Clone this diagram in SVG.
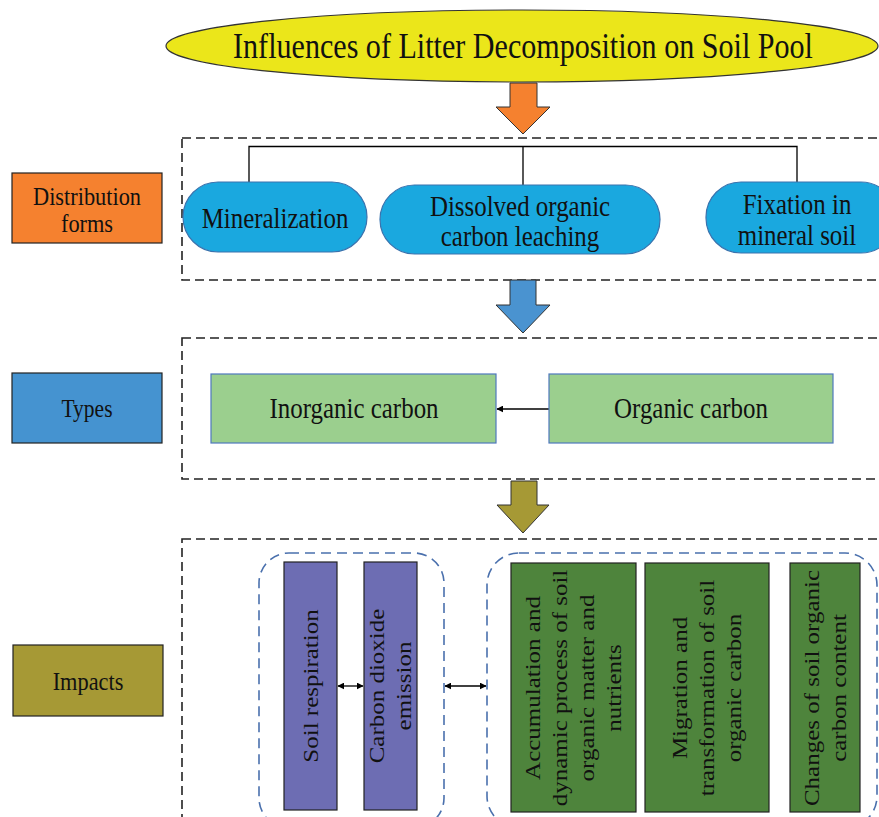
<svg xmlns="http://www.w3.org/2000/svg" width="879" height="817" viewBox="0 0 879 817">
<defs>
<marker id="ah" viewBox="0 0 10 10" refX="9" refY="5" markerWidth="7" markerHeight="7" orient="auto-start-reverse" markerUnits="userSpaceOnUse"><path d="M0,0 L10,5 L0,10 z" fill="#000"/></marker>
</defs>
<style>
text{font-family:"Liberation Serif","Times New Roman",serif;fill:#111;text-anchor:middle}
.t{font-size:29px}
.lab{font-size:26px}
.r{font-size:25px}
.dash{fill:none;stroke:#222;stroke-width:1.6;stroke-dasharray:9 5}
.bdash{fill:none;stroke:#4a70ad;stroke-width:1.6;stroke-dasharray:10 6}
.pill{fill:#1aa8df;stroke:#3a73ae;stroke-width:1.2}
.lg{fill:#9bcf8e;stroke:#4f78bd;stroke-width:1.2}
.pu{fill:#6d6db3;stroke:#222;stroke-width:1.2}
.dg{fill:#4e843c;stroke:#222;stroke-width:1.2}
.conn{fill:none;stroke:#000;stroke-width:1.3}
</style>

<g id="title">
<ellipse cx="522" cy="46" rx="356" ry="36" fill="#ebe61a" stroke="#333" stroke-width="1.2"/>
<text transform="translate(523,58) scale(0.86,1)" style="font-size:35px">Influences of Litter Decomposition on Soil Pool</text>
</g>

<g id="frames">
<rect class="dash" x="182" y="138" width="710" height="142"/>
<rect class="dash" x="182" y="338" width="710" height="141"/>
<rect class="dash" x="182" y="539" width="710" height="300"/>
</g>

<g id="block-arrows">
<path d="M510,83 H537 V107 H550 L523,134 L496,107 H510 Z" fill="#f5812f" stroke="#333" stroke-width="1"/>
<path d="M510,280 H536 V305 H550 L523,333 L496,305 H510 Z" fill="#4a93d0" stroke="#333" stroke-width="1"/>
<path d="M511,481 H537 V505 H549 L523,533 L497,505 H511 Z" fill="#a69935" stroke="#333" stroke-width="1"/>
</g>

<g id="lab-distribution">
<rect x="12" y="173" width="150" height="70" fill="#f5812f" stroke="#222" stroke-width="1.2"/>
<text class="lab" transform="translate(87,205) scale(0.86,1)">Distribution</text>
<text class="lab" transform="translate(87,232) scale(0.86,1)">forms</text>
</g>
<g id="lab-types">
<rect x="12" y="373" width="150" height="70" fill="#4593d0" stroke="#222" stroke-width="1.2"/>
<text class="lab" transform="translate(87,417) scale(0.86,1)" style="font-size:25px">Types</text>
</g>
<g id="lab-impacts">
<rect x="13" y="645" width="150" height="71" fill="#a69935" stroke="#222" stroke-width="1.2"/>
<text class="lab" transform="translate(88,690) scale(0.86,1)">Impacts</text>
</g>

<g id="connectors">
<path class="conn" d="M249,182 V146.5 H797 V182 M523,146.5 V185"/>
<line class="conn" x1="549" y1="409" x2="497" y2="409" stroke-width="1" marker-end="url(#ah)"/>
<line class="conn" x1="338" y1="686" x2="363" y2="686" marker-start="url(#ah)" marker-end="url(#ah)"/>
<line class="conn" x1="445" y1="686" x2="486" y2="686" marker-start="url(#ah)" marker-end="url(#ah)"/>
</g>

<g id="mineralization">
<rect class="pill" x="183" y="182" width="184" height="70" rx="35"/>
<text class="t" transform="translate(275,228) scale(0.86,1)">Mineralization</text>
</g>
<g id="doc-leaching">
<rect class="pill" x="380" y="185" width="280" height="69" rx="34.5"/>
<text class="t" transform="translate(520,216) scale(0.86,1)">Dissolved organic</text>
<text class="t" transform="translate(520,246) scale(0.86,1)">carbon leaching</text>
</g>
<g id="fixation">
<rect class="pill" x="706" y="182" width="190" height="71" rx="35"/>
<text class="t" transform="translate(797,214) scale(0.86,1)">Fixation in</text>
<text class="t" transform="translate(797,245) scale(0.86,1)">mineral soil</text>
</g>

<g id="inorganic">
<rect class="lg" x="211" y="374" width="285" height="69"/>
<text class="t" transform="translate(354,418) scale(0.86,1)">Inorganic carbon</text>
</g>
<g id="organic">
<rect class="lg" x="549" y="374" width="284" height="69"/>
<text class="t" transform="translate(691,418) scale(0.86,1)">Organic carbon</text>
</g>

<g id="group-left">
<rect class="bdash" x="259" y="553" width="185" height="275" rx="30"/>
</g>
<g id="group-right">
<rect class="bdash" x="487" y="553" width="390" height="275" rx="32"/>
</g>

<g id="soil-respiration">
<rect class="pu" x="284" y="562" width="53" height="248"/>
<text class="r" transform="translate(317.5,686) rotate(-90) scale(1,0.86)">Soil respiration</text>
</g>
<g id="co2-emission">
<rect class="pu" x="364" y="562" width="53" height="248"/>
<text class="r" transform="translate(384,686) rotate(-90) scale(1,0.86)">Carbon dioxide</text>
<text class="r" transform="translate(411,686) rotate(-90) scale(1,0.86)">emission</text>
</g>
<g id="accumulation">
<rect class="dg" x="511" y="563" width="125" height="249"/>
<text class="r" transform="translate(540,688) rotate(-90) scale(1,0.86)">Accumulation and</text>
<text class="r" transform="translate(567,688) rotate(-90) scale(1,0.86)">dynamic process of soil</text>
<text class="r" transform="translate(594,688) rotate(-90) scale(1,0.86)">organic matter and</text>
<text class="r" transform="translate(621,688) rotate(-90) scale(1,0.86)">nutrients</text>
</g>
<g id="migration">
<rect class="dg" x="645" y="563" width="124" height="249"/>
<text class="r" transform="translate(687,688) rotate(-90) scale(1,0.86)">Migration and</text>
<text class="r" transform="translate(714,688) rotate(-90) scale(1,0.86)">transformation of soil</text>
<text class="r" transform="translate(741,688) rotate(-90) scale(1,0.86)">organic carbon</text>
</g>
<g id="changes">
<rect class="dg" x="790" y="563" width="70" height="249"/>
<text class="r" transform="translate(818.5,688) rotate(-90) scale(1,0.86)">Changes of soil organic</text>
<text class="r" transform="translate(845.5,688) rotate(-90) scale(1,0.86)">carbon content</text>
</g>
</svg>
